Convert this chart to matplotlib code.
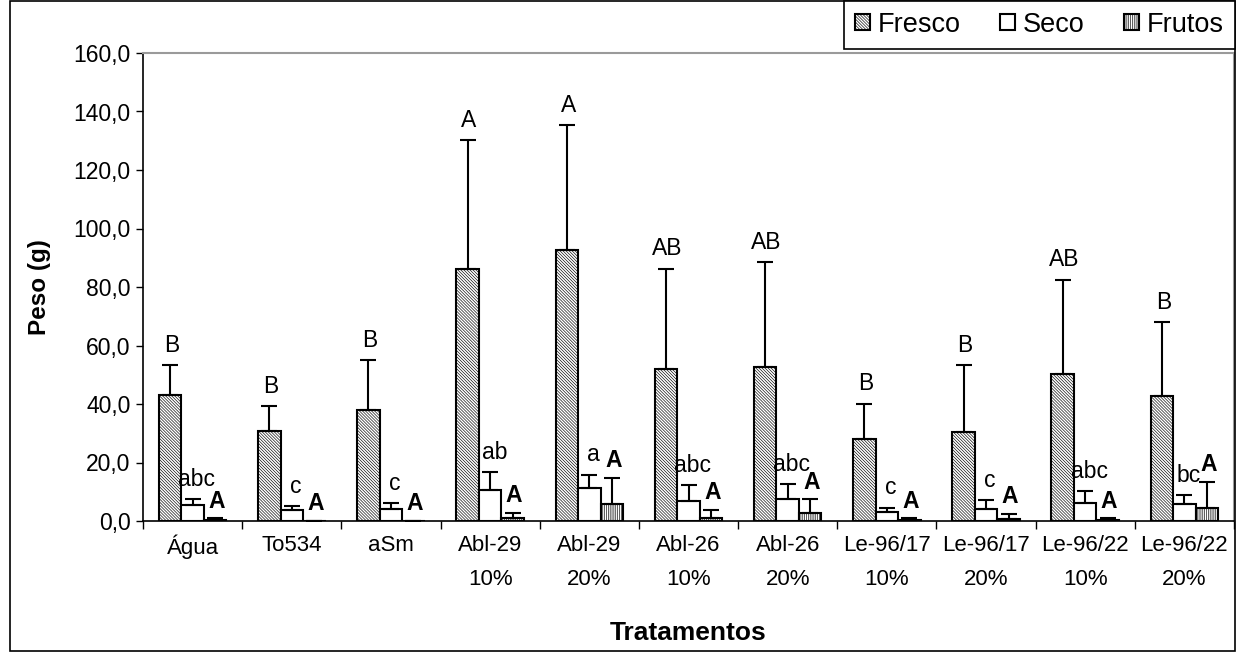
import numpy as np
import matplotlib
matplotlib.use("Agg")
import matplotlib.pyplot as plt
from matplotlib.patches import Rectangle
from matplotlib.ticker import FuncFormatter, FixedLocator

plt.rcParams["font.family"] = ["Liberation Sans", "DejaVu Sans"]
plt.rcParams["hatch.linewidth"] = 0.45

tratamentos = ["Água", "To534", "aSm", "Abl-29\n10%", "Abl-29\n20%", "Abl-26\n10%",
               "Abl-26\n20%", "Le-96/17\n10%", "Le-96/17\n20%", "Le-96/22\n10%",
               "Le-96/22\n20%"]

fresco = [43.1, 30.9, 37.9, 86.3, 92.8, 52.0, 52.7, 28.0, 30.4, 50.2, 42.6]
fresco_err = [10.1, 8.3, 17.0, 44.0, 42.5, 34.3, 35.7, 12.1, 22.9, 32.3, 25.4]
seco = [5.6, 3.6, 4.2, 10.6, 11.4, 7.0, 7.5, 3.2, 4.0, 6.2, 5.7]
seco_err = [1.8, 1.5, 1.9, 6.2, 4.4, 5.2, 5.2, 1.4, 3.2, 4.1, 3.2]
frutos = [0.3, 0.0, 0.0, 1.0, 5.7, 1.1, 2.6, 0.2, 0.8, 0.3, 4.3]
frutos_err = [0.7, 0.0, 0.0, 1.8, 9.1, 2.7, 4.9, 0.8, 1.6, 0.6, 9.2]

fresco_lbl = ["B", "B", "B", "A", "A", "AB", "AB", "B", "B", "AB", "B"]
seco_lbl = ["abc", "c", "c", "ab", "a", "abc", "abc", "c", "c", "abc", "bc"]
frutos_lbl = ["A"] * 11

fig = plt.figure(figsize=(12.4, 6.56), dpi=100)
ax = fig.add_axes([143 / 1240, 135 / 656, (1234 - 143) / 1240, (521 - 53) / 656])

x = np.arange(len(tratamentos))
w = 0.227
err_kw = dict(ecolor="black", elinewidth=1.5, capsize=6, capthick=1.5)


def one_sided(err):
    return [np.zeros(len(err)), err]


b1 = ax.bar(x - w, fresco, w, yerr=one_sided(fresco_err), facecolor="white",
            edgecolor="black", hatch="\\" * 11, linewidth=1.5, error_kw=err_kw,
            label="Fresco")
b2 = ax.bar(x, seco, w, yerr=one_sided(seco_err), facecolor="white",
            edgecolor="black", linewidth=1.5, error_kw=err_kw, label="Seco")
b3 = ax.bar(x + w, frutos, w, yerr=one_sided(frutos_err), facecolor="white",
            edgecolor="black", hatch="|" * 9, linewidth=1.5, error_kw=err_kw,
            label="Frutos")

# letters from the means comparison, placed over each error bar
for i in range(len(x)):
    ax.annotate(fresco_lbl[i], (x[i] - w, fresco[i] + fresco_err[i]), xytext=(1, 6),
                textcoords="offset points", ha="center", va="bottom", fontsize=16.5)
    ax.annotate(seco_lbl[i], (x[i], seco[i] + seco_err[i]), xytext=(3, 6),
                textcoords="offset points", ha="center", va="bottom", fontsize=16.5)
    ax.annotate(frutos_lbl[i], (x[i] + w, frutos[i] + frutos_err[i]), xytext=(1, 4),
                textcoords="offset points", ha="center", va="bottom", fontsize=16.5,
                fontweight="bold")

ax.set_xlim(-0.5, len(x) - 0.5)
ax.set_ylim(0, 160)
ax.set_yticks(np.arange(0, 161, 20))
ax.yaxis.set_major_formatter(FuncFormatter(lambda v, _: f"{v:.1f}".replace(".", ",")))
ax.tick_params(axis="y", direction="out", length=5, width=1, labelsize=16.5, pad=4)

ax.set_xticks(x)
ax.set_xticklabels(tratamentos, linespacing=1.85)
ax.xaxis.set_minor_locator(FixedLocator(np.arange(-0.5, len(x), 1)))
ax.tick_params(axis="x", which="major", length=0, labelsize=16, pad=10)
ax.tick_params(axis="x", which="minor", direction="out", length=6, width=1)

for side in ("left", "bottom"):
    ax.spines[side].set_color("black")
    ax.spines[side].set_linewidth(1.2)
for side in ("top", "right"):
    ax.spines[side].set_color("#9a9a9a")
    ax.spines[side].set_linewidth(1.5)

ax.set_ylabel("Peso (g)", fontsize=17.5, fontweight="bold", labelpad=16)
ax.set_xlabel("Tratamentos", fontsize=19, fontweight="bold", labelpad=22)

leg = fig.legend(handles=[b1, b2, b3], loc="upper right", ncol=3,
                 bbox_to_anchor=(1235 / 1240, 1 - 1 / 656), fontsize=19.5,
                 fancybox=False, framealpha=1, edgecolor="black", borderaxespad=0,
                 handlelength=0.55, handleheight=0.55, handletextpad=0.3,
                 columnspacing=1.45, borderpad=0.4)
leg.get_frame().set_linewidth(1.2)

# outer chart border
fig.patches.append(Rectangle((10 / 1240, 5 / 656), 1225 / 1240, 650 / 656, fill=False,
                             edgecolor="black", linewidth=1.2,
                             transform=fig.transFigure))

fig.savefig("out.png", dpi=100)
